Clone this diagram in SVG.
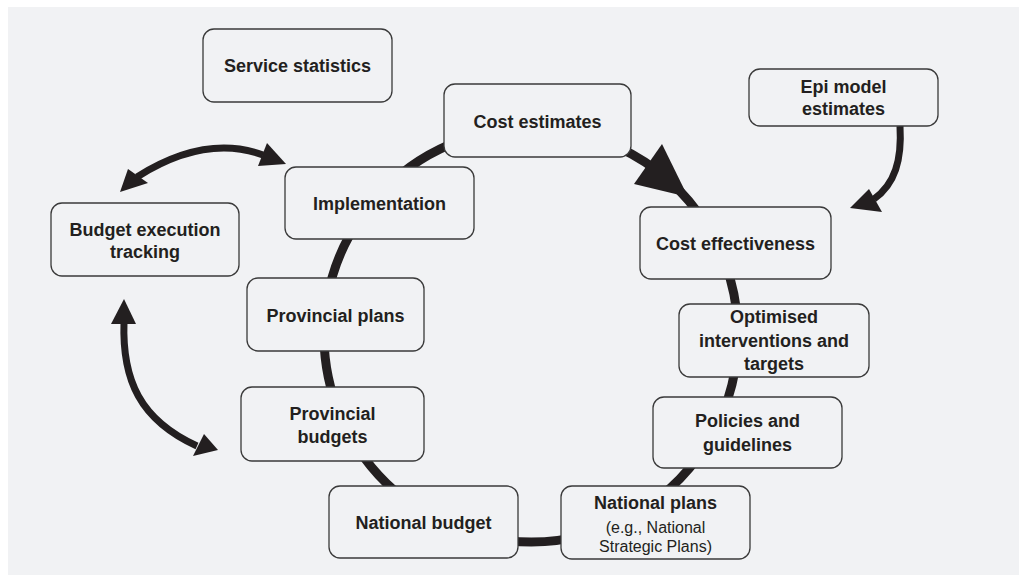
<svg xmlns="http://www.w3.org/2000/svg" width="1019" height="575" viewBox="0 0 1019 575">
<style>
.box{fill:#f1f2f4;stroke:#3a3a3a;stroke-width:1.3}
.t{font-family:"Liberation Sans",Arial,sans-serif;font-weight:bold;font-size:18px;fill:#231f20;text-anchor:middle}
.s{font-family:"Liberation Sans",Arial,sans-serif;font-size:16px;fill:#231f20;text-anchor:middle}
.cyc{fill:none;stroke:#231f20;stroke-width:9}
.side{fill:none;stroke:#231f20;stroke-width:7}
.head{fill:#231f20}
</style>
<rect x="0" y="0" width="1019" height="575" fill="#ffffff"/>
<rect x="8" y="7" width="1011" height="568" fill="#f1f2f4"/>
<g id="connectors">
<path class="cyc" d="M 384.6 188.6 A 207 207 0 0 1 460.2 140.5"/>
<path class="cyc" d="M 618.5 147.4 A 207 207 0 0 1 706.5 225.3"/>
<polygon class="head" points="662,144 634,184 688,197"/>
<path class="cyc" d="M 725.5 264.2 A 207 207 0 0 1 737.7 324.2"/>
<path class="cyc" d="M 736.9 356.6 A 207 207 0 0 1 722.9 412.5"/>
<path class="cyc" d="M 698.5 456.7 A 207 207 0 0 1 658.5 498.1"/>
<path class="cyc" d="M 584.6 535 A 207 207 0 0 1 495.1 538.9"/>
<path class="cyc" d="M 412.3 504.6 A 207 207 0 0 1 351.7 438.5"/>
<path class="cyc" d="M 336.5 405.8 A 207 207 0 0 1 324.1 327.8"/>
<path class="cyc" d="M 327.1 299.1 A 207 207 0 0 1 361.4 216.3"/>
<path class="side" d="M 900 126 C 902 160 895 184 874 199"/>
<polygon class="head" points="850,208 869,189 882,212"/>
<path class="side" d="M 137 177 Q 205 134 263 155"/>
<polygon class="head" points="120,192 128,169 148,183"/>
<polygon class="head" points="286,164 267,143 258,166"/>
<path class="side" d="M 124 322 C 122 380 140 420 197 446"/>
<polygon class="head" points="124,299 111,324 136,324"/>
<polygon class="head" points="218,450 193,456 204,434"/>
</g>
<g id="service-statistics"><rect class="box" x="203" y="29" width="189" height="73" rx="11"/><text class="t" x="297.5" y="72">Service statistics</text></g>
<g id="cost-estimates"><rect class="box" x="444" y="84" width="187" height="73" rx="11"/><text class="t" x="537.5" y="127.5">Cost estimates</text></g>
<g id="epi-model-estimates"><rect class="box" x="749" y="69" width="189" height="57" rx="11"/><text class="t" x="843.5" y="93">Epi model</text><text class="t" x="843.5" y="115">estimates</text></g>
<g id="implementation"><rect class="box" x="285" y="167" width="189" height="72" rx="11"/><text class="t" x="379.5" y="210">Implementation</text></g>
<g id="budget-execution-tracking"><rect class="box" x="51" y="203" width="188" height="73" rx="11"/><text class="t" x="145" y="236">Budget execution</text><text class="t" x="145" y="258">tracking</text></g>
<g id="cost-effectiveness"><rect class="box" x="640" y="207" width="191" height="72" rx="11"/><text class="t" x="735.5" y="250">Cost effectiveness</text></g>
<g id="provincial-plans"><rect class="box" x="247" y="278" width="177" height="73" rx="11"/><text class="t" x="335.5" y="322">Provincial plans</text></g>
<g id="optimised-interventions"><rect class="box" x="679" y="304" width="190" height="73" rx="11"/><text class="t" x="774" y="323">Optimised</text><text class="t" x="774" y="347">interventions and</text><text class="t" x="774" y="370">targets</text></g>
<g id="provincial-budgets"><rect class="box" x="241" y="387" width="183" height="74" rx="11"/><text class="t" x="332.5" y="420">Provincial</text><text class="t" x="332.5" y="443">budgets</text></g>
<g id="policies-guidelines"><rect class="box" x="653" y="397" width="189" height="71" rx="11"/><text class="t" x="747.5" y="427">Policies and</text><text class="t" x="747.5" y="451">guidelines</text></g>
<g id="national-budget"><rect class="box" x="329" y="486" width="189" height="72" rx="11"/><text class="t" x="423.5" y="529">National budget</text></g>
<g id="national-plans"><rect class="box" x="561" y="486" width="189" height="73" rx="11"/><text class="t" x="655.5" y="509">National plans</text><text class="s" x="655.5" y="533">(e.g., National</text><text class="s" x="655.5" y="552">Strategic Plans)</text></g>
</svg>
